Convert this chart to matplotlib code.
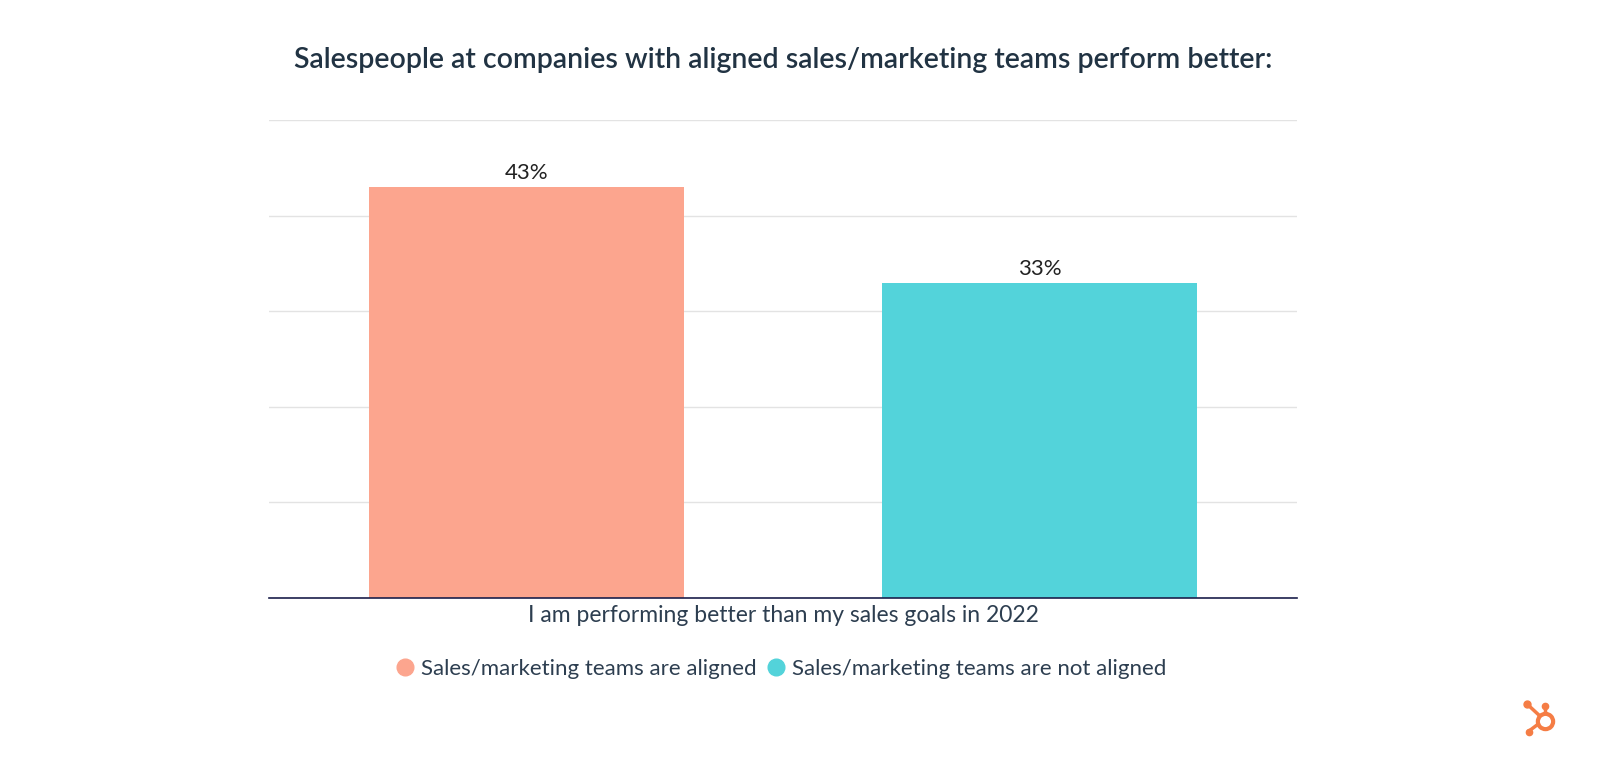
import matplotlib
matplotlib.use("Agg")
import matplotlib.pyplot as plt
from matplotlib.lines import Line2D

categories = ["I am performing better than my sales goals in 2022"]
series_names = ["Sales/marketing teams are aligned", "Sales/marketing teams are not aligned"]
series_values = [[43], [33]]
value_labels = [["43%"], ["33%"]]
colors = ["#FCA58E", "#53D3DA"]
yticks = [0, 10, 20, 30, 40, 50]
title = "Salespeople at companies with aligned sales/marketing teams perform better:"

plt.rcParams['font.family'] = ['Lato', 'DejaVu Sans']
text_color = "#2D3E50"

fig = plt.figure(figsize=(16, 7.59), dpi=100)
ax = fig.add_axes([269/1600, 1-598/759, (1297-269)/1600, (598-120)/759])

offsets = [-0.2495, 0.2495]
width = 0.307
for i, (name, vals) in enumerate(zip(series_names, series_values)):
    xs = [c + offsets[i] for c in range(len(categories))]
    bars = ax.bar(xs, vals, width=width, color=colors[i], label=name, zorder=2)
    for b, lab in zip(bars, value_labels[i]):
        ax.text(b.get_x() + b.get_width()/2, b.get_height() + 0.4, lab,
                ha="center", va="bottom", fontsize=16, color="#222222")

ax.set_xlim(-0.5, 0.5)
ax.set_ylim(0, 50)
ax.set_yticks(yticks)
ax.set_yticklabels([])
ax.tick_params(axis="y", length=0)
ax.tick_params(axis="x", length=0, pad=5)
ax.set_xticks(range(len(categories)))
ax.set_xticklabels(categories, fontsize=16.5, color=text_color)
ax.grid(axis="y", color="#E3E3E3", linewidth=1, zorder=0)
for s in ["top", "left", "right"]:
    ax.spines[s].set_visible(False)
ax.spines["bottom"].set_color("#1B1F4B")
ax.spines["bottom"].set_linewidth(1.2)
ax.spines["bottom"].set_zorder(3)

fig.text(783/1600, 1-60/759, title, ha="center", va="center", fontsize=20.5,
         color="#213343", fontweight=600)

handles = [Line2D([0], [0], marker="o", linestyle="", markersize=12,
                  markerfacecolor=c, markeredgecolor=c) for c in colors]
fig.legend(handles, series_names, loc="center", bbox_to_anchor=(780/1600, 1-669/759),
           ncol=2, frameon=False, fontsize=16, handletextpad=0.2, columnspacing=0.4,
           labelcolor=text_color, handlelength=1.0)

# small sprocket-style logo mark
orange = "#F57D45"
fig.add_artist(Line2D([1527/1600, 1541/1600], [1-704/759, 1-717/759], color=orange, lw=2.5, transform=fig.transFigure))
fig.add_artist(Line2D([1545/1600, 1545/1600], [1-707/759, 1-716/759], color=orange, lw=2.5, transform=fig.transFigure))
fig.add_artist(Line2D([1529/1600, 1537/1600], [1-731/759, 1-725/759], color=orange, lw=2.5, transform=fig.transFigure))
fig.add_artist(Line2D([1527/1600], [1-704/759], marker="o", markersize=5, color=orange, transform=fig.transFigure))
fig.add_artist(Line2D([1545/1600], [1-706/759], marker="o", markersize=4.5, color=orange, transform=fig.transFigure))
fig.add_artist(Line2D([1529/1600], [1-732/759], marker="o", markersize=4.5, color=orange, transform=fig.transFigure))
fig.add_artist(Line2D([1545/1600], [1-721/759], marker="o", markersize=11, markerfacecolor="white",
                      markeredgecolor=orange, markeredgewidth=3, transform=fig.transFigure))

fig.savefig("out.png", dpi=100, facecolor="white")
